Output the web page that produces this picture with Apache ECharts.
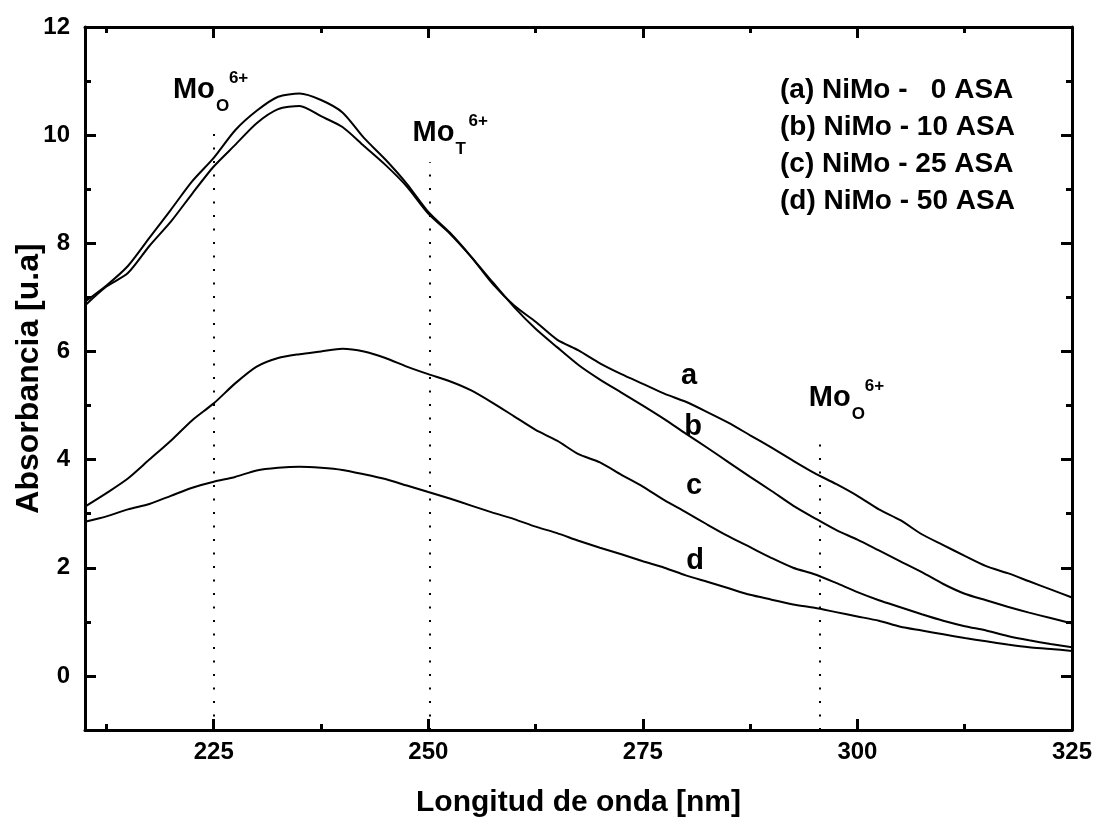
<!DOCTYPE html>
<html>
<head>
<meta charset="utf-8">
<script src="https://cdn.jsdelivr.net/npm/echarts@6/dist/echarts.min.js"></script>
<style>
html,body{margin:0;padding:0;background:#fff;}
#chart{width:1094px;height:819px;}
</style>
</head>
<body>
<div id="chart"></div>
<script>
// ---------------- DATA ----------------
const wavelength = [210, 212.5, 215, 217.5, 220, 222.5, 225, 227.5, 230, 232.5, 235, 237.5, 240, 242.5, 245, 247.5, 250, 252.5, 255, 257.5, 260, 262.5, 265, 267.5, 270, 272.5, 275, 277.5, 280, 282.5, 285, 287.5, 290, 292.5, 295, 297.5, 300, 302.5, 305, 307.5, 310, 312.5, 315, 317.5, 320, 322.5, 325];
const seriesA = [6.92, 7.22, 7.58, 8.10, 8.62, 9.15, 9.58, 10.09, 10.45, 10.71, 10.77, 10.65, 10.42, 9.95, 9.55, 9.10, 8.58, 8.20, 7.75, 7.25, 6.85, 6.55, 6.22, 6.02, 5.78, 5.58, 5.40, 5.22, 5.07, 4.88, 4.68, 4.45, 4.22, 3.98, 3.75, 3.55, 3.33, 3.08, 2.88, 2.62, 2.42, 2.22, 2.03, 1.90, 1.75, 1.60, 1.45];
const seriesB = [6.85, 7.20, 7.45, 7.95, 8.40, 8.92, 9.42, 9.82, 10.22, 10.48, 10.54, 10.35, 10.15, 9.80, 9.45, 9.05, 8.55, 8.18, 7.75, 7.28, 6.82, 6.42, 6.08, 5.75, 5.48, 5.24, 5.00, 4.75, 4.48, 4.22, 3.95, 3.68, 3.42, 3.15, 2.92, 2.70, 2.52, 2.32, 2.12, 1.92, 1.70, 1.52, 1.40, 1.28, 1.17, 1.07, 0.97];
const seriesC = [3.13, 3.38, 3.65, 4.00, 4.35, 4.73, 5.04, 5.41, 5.72, 5.88, 5.95, 6.00, 6.05, 6.00, 5.88, 5.72, 5.58, 5.45, 5.28, 5.05, 4.80, 4.55, 4.35, 4.10, 3.95, 3.72, 3.50, 3.25, 3.03, 2.80, 2.58, 2.38, 2.18, 2.00, 1.88, 1.72, 1.55, 1.40, 1.27, 1.14, 1.02, 0.92, 0.84, 0.74, 0.66, 0.59, 0.53];
const seriesD = [2.85, 2.95, 3.08, 3.18, 3.33, 3.48, 3.59, 3.68, 3.80, 3.85, 3.87, 3.85, 3.81, 3.73, 3.64, 3.52, 3.40, 3.28, 3.15, 3.02, 2.90, 2.76, 2.64, 2.50, 2.37, 2.25, 2.12, 2.00, 1.86, 1.74, 1.62, 1.50, 1.41, 1.32, 1.26, 1.18, 1.10, 1.02, 0.91, 0.84, 0.77, 0.70, 0.64, 0.58, 0.53, 0.50, 0.46];

const seriesNames = ['a', 'b', 'c', 'd'];
const legendLabels = ['(a) NiMo -   0 ASA', '(b) NiMo - 10 ASA', '(c) NiMo - 25 ASA', '(d) NiMo - 50 ASA'];

const xMajorTicks = [225, 250, 275, 300, 325];
const xMinorTicks = [212.5, 237.5, 262.5, 287.5, 312.5];
const yMajorTicks = [0, 2, 4, 6, 8, 10, 12];
const yMinorTicks = [-1, 1, 3, 5, 7, 9, 11];

// dotted reference lines: [wavelength, top value]
const refLines = [[225, 10.06], [250.2, 9.5], [295.6, 4.36]];
// band labels (Mo with subscript and superscript): anchor at left / cap-centre of "Mo"
const moLabels = [
  { x: 220.24, y: 10.83, sub: 'O', sup: '6+' },
  { x: 248.16, y: 10.04, sub: 'T', sup: '6+' },
  { x: 294.34, y: 5.14, sub: 'O', sup: '6+' }
];
// curve letter labels
const curveLabels = [
  { t: 'a', x: 280.38, y: 5.55 },
  { t: 'b', x: 280.85, y: 4.60 },
  { t: 'c', x: 280.96, y: 3.51 },
  { t: 'd', x: 281.08, y: 2.13 }
];

// ---------------- CHART ----------------
const FONT = "'Liberation Sans', Arial, Helvetica, sans-serif";
const chart = echarts.init(document.getElementById('chart'), null, { renderer: 'canvas' });

function pairs(ys) { return wavelength.map((w, i) => [w, ys[i]]); }
const allSeries = [seriesA, seriesB, seriesC, seriesD];

function lineCfg(show) {
  return show ? { show: true, onZero: false, lineStyle: { color: '#000', width: 3 } } : { show: false, onZero: false };
}
function xAx(position, ticks, len, labels, lineShow, extra) {
  return Object.assign({
    type: 'value', position: position, min: 210, max: 325,
    axisLine: lineCfg(lineShow),
    axisTick: { show: true, inside: true, length: len, customValues: ticks, lineStyle: { color: '#000', width: 3 } },
    axisLabel: labels ? { show: true, customValues: ticks, color: '#000', fontSize: 24, fontWeight: 'bold', fontFamily: FONT, margin: 10 } : { show: false },
    splitLine: { show: false }
  }, extra || {});
}
function yAx(position, ticks, len, labels, lineShow, extra) {
  return Object.assign({
    type: 'value', position: position, min: -1, max: 12,
    axisLine: lineCfg(lineShow),
    axisTick: { show: true, inside: true, length: len, customValues: ticks, lineStyle: { color: '#000', width: 3 } },
    axisLabel: labels ? { show: true, customValues: ticks, color: '#000', fontSize: 24, fontWeight: 'bold', fontFamily: FONT, margin: 15 } : { show: false },
    splitLine: { show: false }
  }, extra || {});
}

const option = {
  backgroundColor: '#fff',
  animation: false,
  textStyle: { fontFamily: FONT },
  grid: { left: 85, right: 22, top: 27, bottom: 89, containLabel: false, outerBoundsMode: 'none' },
  xAxis: [
    xAx('bottom', xMajorTicks, 11, true, true, {
      name: 'Longitud de onda [nm]', nameLocation: 'middle', nameGap: 58,
      nameTextStyle: { color: '#000', fontSize: 30, fontWeight: 'bold', fontFamily: FONT }
    }),
    xAx('top', xMajorTicks, 11, false, true),
    xAx('bottom', xMinorTicks, 6, false, false),
    xAx('top', xMinorTicks, 6, false, false)
  ],
  yAxis: [
    yAx('left', yMajorTicks, 11, true, true, {
      name: 'Absorbancia [u.a]', nameLocation: 'middle', nameGap: 40, nameMoveOverlap: false,
      nameTextStyle: { color: '#000', fontSize: 32, fontWeight: 'bold', fontFamily: FONT }
    }),
    yAx('right', yMajorTicks, 11, false, true),
    yAx('left', yMinorTicks, 6, false, false),
    yAx('right', yMinorTicks, 6, false, false)
  ],
  series: allSeries.map((ys, k) => {
    const s = {
      name: seriesNames[k], type: 'line', xAxisIndex: 0, yAxisIndex: 0,
      data: pairs(ys), showSymbol: false, symbol: 'none', smooth: 0.25,
      lineStyle: { color: '#000', width: 2 }, silent: true, z: 3
    };
    if (k === 0) {
      s.markLine = {
        silent: true, symbol: ['none', 'none'], label: { show: false },
        lineStyle: { color: '#000', width: 2, type: [2, 11.5] },
        data: refLines.map(r => [{ coord: [r[0], -1] }, { coord: [r[0], r[1]] }])
      };
    }
    return s;
  })
};
chart.setOption(option);

// ---------------- ANNOTATIONS ----------------
const toPx = (x, y) => chart.convertToPixel({ gridIndex: 0 }, [x, y]);
const graphics = [];
moLabels.forEach(m => {
  const p = toPx(m.x, m.y);
  graphics.push({ type: 'text', x: p[0], y: p[1], silent: true,
    style: { text: 'Mo', font: 'bold 29px ' + FONT, fill: '#000', align: 'left', verticalAlign: 'middle' } });
  graphics.push({ type: 'text', x: p[0] + 43, y: p[1] + 16, silent: true,
    style: { text: m.sub, font: 'bold 17px ' + FONT, fill: '#000', align: 'left', verticalAlign: 'middle' } });
  graphics.push({ type: 'text', x: p[0] + 56, y: p[1] - 12, silent: true,
    style: { text: m.sup, font: 'bold 17px ' + FONT, fill: '#000', align: 'left', verticalAlign: 'middle' } });
});
curveLabels.forEach(c => {
  const p = toPx(c.x, c.y);
  graphics.push({ type: 'text', x: p[0], y: p[1], silent: true,
    style: { text: c.t, font: 'bold 29px ' + FONT, fill: '#000', align: 'center', verticalAlign: 'middle' } });
});
graphics.push({ type: 'text', left: 780, top: 72, silent: true,
  style: { text: legendLabels.join('\n'), font: 'bold 28px ' + FONT, lineHeight: 37, fill: '#000', align: 'left' } });
chart.setOption({ graphic: graphics });
</script>
</body>
</html>
